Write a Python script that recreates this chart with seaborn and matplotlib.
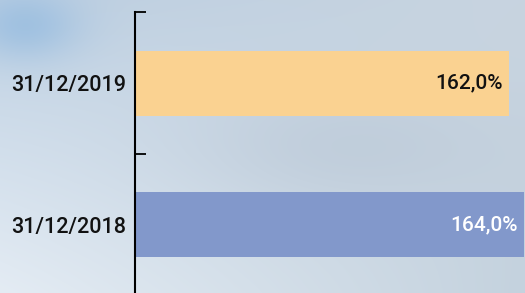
import numpy as np
import pandas as pd
import matplotlib
matplotlib.use("Agg")
import matplotlib.pyplot as plt
import seaborn as sns

categories = ["31/12/2019", "31/12/2018"]
values = [162.0, 164.0]
labels = ["162,0%", "164,0%"]
bar_colors = ["#FAD291", "#8298CB"]
text_colors = ["#111111", "#FFFFFF"]

sns.set_style("white")
plt.rcParams['font.family'] = ['Roboto', 'DejaVu Sans']

W, H = 525, 293
fig = plt.figure(figsize=(W / 100, H / 100), dpi=100)

# background: soft photo-like gradient
yy, xx = np.mgrid[0:H, 0:W]
u = xx / (W - 1)
v = yy / (H - 1)
tl = np.array([190, 208, 226])
tr = np.array([200, 212, 224])
bl = np.array([228, 236, 244])
br = np.array([196, 210, 222])
bg = (tl[None, None] * ((1 - u) * (1 - v))[..., None]
      + tr[None, None] * (u * (1 - v))[..., None]
      + bl[None, None] * ((1 - u) * v)[..., None]
      + br[None, None] * (u * v)[..., None])
blob = np.exp(-(((xx - 25) / 55.0) ** 2 + ((yy - 25) / 35.0) ** 2))[..., None]
bg = bg * (1 - 0.75 * blob) + np.array([150, 188, 224])[None, None] * 0.75 * blob
mid = np.exp(-(((xx - 340) / 150.0) ** 2 + ((yy - 150) / 60.0) ** 2))[..., None]
bg = bg * (1 - 0.35 * mid) + np.array([176, 190, 206])[None, None] * 0.35 * mid
bgax = fig.add_axes([0, 0, 1, 1], zorder=-10)
bgax.imshow(np.clip(bg, 0, 255).astype(np.uint8), aspect="auto", interpolation="bilinear")
bgax.axis("off")

left = 135 / W
top = 1 - 12.4 / H
bottom = 1 - 295.6 / H
ax = fig.add_axes([left, bottom, 1 - left, top - bottom])
ax.patch.set_alpha(0)

df = pd.DataFrame({"date": categories, "value": values})
sns.barplot(data=df, x="value", y="date", hue="date", palette=bar_colors,
            orient="h", width=0.46, legend=False, ax=ax, saturation=1,
            linewidth=0, edgecolor="none")

ax.set_xlim(112.13, 164.13)
ax.set_ylim(1.5, -0.5)
ax.set_xlabel("")
ax.set_ylabel("")
ax.set_xticks([])

for s in ["top", "right", "bottom"]:
    ax.spines[s].set_visible(False)
ax.spines["left"].set_color("black")
ax.spines["left"].set_linewidth(1.5)

ax.set_yticks([0, 1])
ax.set_yticklabels(categories, fontsize=15.5, color="#111111", fontweight="medium")
ax.tick_params(axis="y", which="major", length=0, pad=6.5, left=False)
ax.set_yticks([-0.5, 0.5, 1.5], minor=True)
ax.tick_params(axis="y", which="minor", left=True, direction="in", length=8,
               width=1.3, color="black")

for i, (val, lab, tc) in enumerate(zip(values, labels, text_colors)):
    ax.annotate(lab, xy=(val, i), xytext=(-4.5, 0), textcoords="offset points",
                ha="right", va="center", fontsize=15, color=tc, fontweight="medium")

fig.savefig("out.png", dpi=100)
